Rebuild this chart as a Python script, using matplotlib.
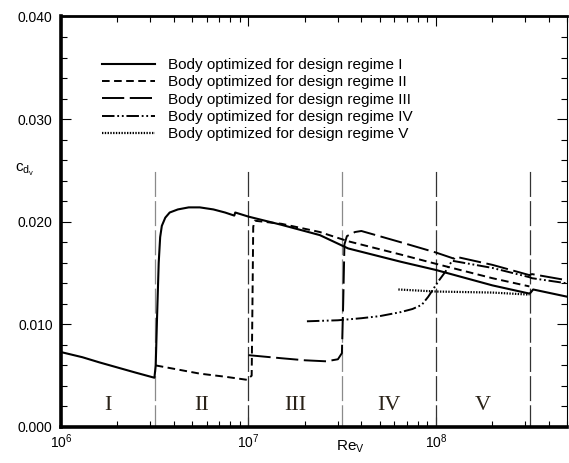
import numpy as np
import matplotlib
matplotlib.use("Agg")
import matplotlib.pyplot as plt
from matplotlib.ticker import LogLocator, MultipleLocator, FormatStrFormatter, NullFormatter

plt.rcParams['font.family'] = ['Liberation Sans', 'DejaVu Sans']
plt.rcParams['mathtext.fontset'] = 'custom'
plt.rcParams['mathtext.rm'] = 'Liberation Sans'
plt.rcParams['mathtext.it'] = 'Liberation Sans'
plt.rcParams['lines.scale_dashes'] = False

# ---------------- data ----------------
labels = ["Body optimized for design regime I",
          "Body optimized for design regime II",
          "Body optimized for design regime III",
          "Body optimized for design regime IV",
          "Body optimized for design regime V"]

re_1 = [1.0e6, 1.3e6, 1.6e6, 2.0e6, 2.5e6, 3.15e6, 3.2e6, 3.25e6, 3.32e6, 3.38e6, 3.45e6, 3.6e6, 3.8e6,
        4.2e6, 4.8e6, 5.5e6, 6.5e6, 7.5e6, 8.4e6, 8.5e6, 1.0e7, 1.5e7, 2.4e7, 3.4e7, 6.5e7, 1.0e8,
        2.0e8, 3.15e8, 3.2e8, 3.3e8, 5.0e8]
cd_1 = [0.0073, 0.0068, 0.0063, 0.0058, 0.0053, 0.0048, 0.0060, 0.0104, 0.0160, 0.0185, 0.0196, 0.0204, 0.0209,
        0.0212, 0.0214, 0.0214, 0.0212, 0.0209, 0.0206, 0.0209, 0.0205, 0.0197, 0.0187, 0.0174, 0.0161, 0.0153,
        0.0138, 0.0130, 0.0131, 0.0134, 0.0127]

re_2 = [3.2e6, 4.2e6, 5.5e6, 7.5e6, 9.8e6, 1.04e7, 1.05e7, 1.06e7, 1.08e7, 1.5e7, 2.4e7, 3.4e7, 6.5e7, 1.0e8,
        2.0e8, 3.15e8]
cd_2 = [0.0060, 0.0056, 0.0052, 0.0049, 0.0046, 0.0050, 0.0120, 0.0195, 0.0201, 0.0198, 0.0190, 0.0181, 0.0168,
        0.0159, 0.0145, 0.0137]

re_3 = [1.0e7, 1.5e7, 2.0e7, 2.6e7, 3.0e7, 3.15e7, 3.2e7, 3.25e7, 3.35e7, 3.7e7, 4.0e7, 6.5e7, 1.0e8,
        1.25e8, 1.27e8, 2.0e8, 3.15e8, 3.25e8, 5.0e8]
cd_3 = [0.0070, 0.0067, 0.0065, 0.0064, 0.0066, 0.0072, 0.0120, 0.0178, 0.0186, 0.0190, 0.0191, 0.0180, 0.0170,
        0.0164, 0.0166, 0.0158, 0.0148, 0.0149, 0.0143]

re_4 = [2.05e7, 3.0e7, 4.0e7, 5.0e7, 6.5e7, 7.5e7, 8.4e7, 9.1e7, 1.03e8, 1.12e8, 1.18e8, 1.22e8,
        2.0e8, 3.15e8, 3.25e8, 5.0e8]
cd_4 = [0.0103, 0.0104, 0.0106, 0.0108, 0.0112, 0.0115, 0.0119, 0.0127, 0.0142, 0.0151, 0.0158, 0.0162,
        0.0155, 0.0146, 0.0145, 0.0140]

re_5 = [6.3e7, 1.0e8, 2.0e8, 3.15e8]
cd_5 = [0.0134, 0.0132, 0.0131, 0.0129]

regime_bounds = [10**6.5, 1e7, 10**7.5, 1e8, 10**8.5]
regime_names = ["I", "II", "III", "IV", "V"]
regime_centers = [10**6.25, 10**6.75, 10**7.25, 10**7.75, 10**8.25]

# ---------------- figure ----------------
fig = plt.figure(figsize=(5.69, 4.63), dpi=100)
ax = fig.add_axes([61/569, 1-427/463, 506/569, 410.5/463])

bound_colors = ['#8a8a8a', '#333333', '#8a8a8a', '#333333', '#333333']
for b, c in zip(regime_bounds, bound_colors):
    ax.plot([b, b], [0, 0.025], color=c, lw=0.9, linestyle=(2, (18, 3)))

styles = [
    dict(linestyle='-', lw=1.5),
    dict(linestyle=(0, (5.5, 3.2)), lw=1.4),
    dict(linestyle=(0, (16, 4)), lw=1.4),
    dict(linestyle=(0, (9, 2, 1.3, 2, 1.3, 2)), lw=1.4),
    dict(linestyle=(0, (1.0, 1.0)), lw=1.6),
]
series = [(re_1, cd_1), (re_2, cd_2), (re_3, cd_3), (re_4, cd_4), (re_5, cd_5)]
handles = []
for (xs, ys), st, lab in zip(series, styles, labels):
    h, = ax.plot(xs, ys, color='black', label=lab, **st)
    handles.append(h)

for xc, name in zip(regime_centers, regime_names):
    ax.text(xc, 0.0021, name, ha='center', va='center', fontsize=16,
            family=['Liberation Serif', 'DejaVu Serif'], color='#2a2218')

ax.set_xscale('log')
ax.set_xlim(1e6, 5e8)
ax.set_ylim(0.0, 0.040)

ax.xaxis.set_major_locator(LogLocator(base=10, numticks=10))
ax.xaxis.set_minor_locator(LogLocator(base=10, subs=np.arange(2, 10), numticks=20))
ax.xaxis.set_minor_formatter(NullFormatter())
ax.yaxis.set_major_locator(MultipleLocator(0.010))
ax.yaxis.set_minor_locator(MultipleLocator(0.002))
ax.yaxis.set_major_formatter(FormatStrFormatter('%.3f'))

ax.tick_params(which='both', direction='in', top=True, right=True, width=0.8, labelsize=10)
ax.tick_params(which='major', length=7)
ax.tick_params(which='minor', length=4)
ax.tick_params(axis='x', pad=4)
ax.tick_params(axis='y', pad=6)

ax.spines['left'].set_linewidth(2.6)
ax.spines['bottom'].set_linewidth(2.6)
ax.spines['top'].set_linewidth(2.0)
ax.spines['right'].set_linewidth(0.8)

leg = ax.legend(handles=handles, loc='upper left', bbox_to_anchor=(102/569, 1-58/463),
                bbox_transform=fig.transFigure, frameon=False, fontsize=11,
                handlelength=3.5, handletextpad=0.85, labelspacing=0.22,
                borderpad=0, borderaxespad=0)

fig.text(25/569, 1-170/463, r'$\mathrm{c_{d_{v}}}$', ha='center', va='center', fontsize=11)
fig.text(350/569, 1-447/463, r'$\mathrm{Re_{V}}$', ha='center', va='center', fontsize=11)

fig.savefig('out.png', dpi=100)
